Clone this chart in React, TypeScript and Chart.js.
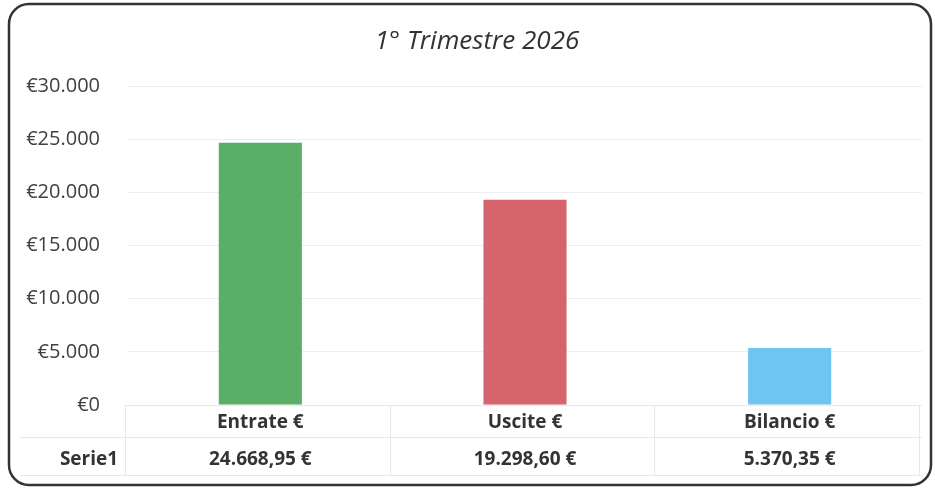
import { useEffect, useRef } from "react";
import { Chart, registerables } from "chart.js";

Chart.register(...registerables);

const chartTitle = "1° Trimestre 2026";
const seriesName = "Serie1";
const categories = ["Entrate €", "Uscite €", "Bilancio €"];
const values = [24668.95, 19298.6, 5370.35];
const yTicks = [0, 5000, 10000, 15000, 20000, 25000, 30000];
const barColors = ["#5aae68", "#d6646c", "#6ec5ef"];

function groupThousands(intPart: string): string {
  let out = "";
  for (let i = 0; i < intPart.length; i++) {
    const fromEnd = intPart.length - i;
    out += intPart[i];
    if (fromEnd > 1 && (fromEnd - 1) % 3 === 0) out += ".";
  }
  return out;
}

function fmtEuroValue(v: number): string {
  const [i, d] = v.toFixed(2).split(".");
  return groupThousands(i) + "," + d + " €";
}

function fmtTick(v: number): string {
  return "€" + groupThousands(Math.round(v).toString());
}

const decorPlugin = {
  id: "decor",
  afterDraw(chart: any) {
    const { ctx, chartArea } = chart;
    const xs = chart.scales.x;
    const left = chartArea.left;
    const right = chartArea.right;
    const bottom = chartArea.bottom;
    const n = categories.length;
    const colW = (right - left) / n;
    ctx.save();

    // title
    ctx.font = "italic 26px 'Open Sans'";
    ctx.fillStyle = "#333333";
    ctx.textAlign = "center";
    ctx.textBaseline = "alphabetic";
    ctx.fillText(chartTitle, 477, 49);

    // data table grid
    const rowMid = bottom + 32;
    const rowEnd = bottom + 70;
    ctx.strokeStyle = "#e8e8e8";
    ctx.lineWidth = 1;
    ctx.beginPath();
    ctx.moveTo(left - 3, bottom + 0.5);
    ctx.lineTo(right, bottom + 0.5);
    ctx.moveTo(20, rowMid + 0.5);
    ctx.lineTo(right, rowMid + 0.5);
    ctx.moveTo(20, rowEnd + 0.5);
    ctx.lineTo(right, rowEnd + 0.5);
    for (let k = 0; k <= n; k++) {
      const xx = Math.round(left - 3 + colW * k) + 0.5;
      ctx.moveTo(xx, bottom);
      ctx.lineTo(xx, rowEnd);
    }
    ctx.stroke();

    // table text
    ctx.font = "bold 19px 'Open Sans'";
    ctx.fillStyle = "#333333";
    ctx.textAlign = "center";
    categories.forEach((c, i) => {
      const cx = xs.getPixelForValue(i);
      ctx.fillText(c, cx, bottom + 23);
      ctx.fillText(fmtEuroValue(values[i]), cx, bottom + 60);
    });
    ctx.fillText(seriesName, 89, bottom + 60);

    // frame
    ctx.strokeStyle = "#333333";
    ctx.lineWidth = 2.5;
    ctx.beginPath();
    ctx.roundRect(9, 4, 922, 481, 20);
    ctx.stroke();
    ctx.restore();
  },
};

export default function App() {
  const ref = useRef<HTMLCanvasElement | null>(null);

  useEffect(() => {
    if (!ref.current) return;
    const chart = new Chart(ref.current, {
      type: "bar",
      data: {
        labels: categories,
        datasets: [
          {
            label: seriesName,
            data: values,
            backgroundColor: barColors,
            borderWidth: 0,
            barPercentage: 0.314,
            categoryPercentage: 1,
          },
        ],
      },
      options: {
        responsive: false,
        animation: false,
        devicePixelRatio: 1,
        layout: { padding: { top: 86, right: 13, bottom: 86, left: 0 } },
        plugins: {
          legend: { display: false },
          title: { display: false },
          tooltip: { enabled: false },
        },
        scales: {
          x: {
            grid: { display: false },
            border: { display: false },
            ticks: { display: false },
            afterFit: (s: any) => {
              s.height = 0;
            },
          },
          y: {
            min: 0,
            max: 30000,
            afterBuildTicks: (s: any) => {
              s.ticks = yTicks.map((v) => ({ value: v }));
            },
            afterFit: (s: any) => {
              s.width = 128;
            },
            grid: { color: "#eeeeee", drawTicks: false, lineWidth: 1 },
            border: { display: false },
            ticks: {
              padding: 28,
              color: "#404040",
              font: { family: "'Open Sans'", size: 20 },
              callback: (v: any) => fmtTick(Number(v)),
            },
          },
        },
      },
      plugins: [decorPlugin],
    });
    return () => chart.destroy();
  }, []);

  return (
    <div style={{ position: "absolute", left: 0, top: 0, width: 935, height: 491, background: "#ffffff" }}>
      <canvas ref={ref} width={935} height={491} style={{ display: "block" }} />
    </div>
  );
}
